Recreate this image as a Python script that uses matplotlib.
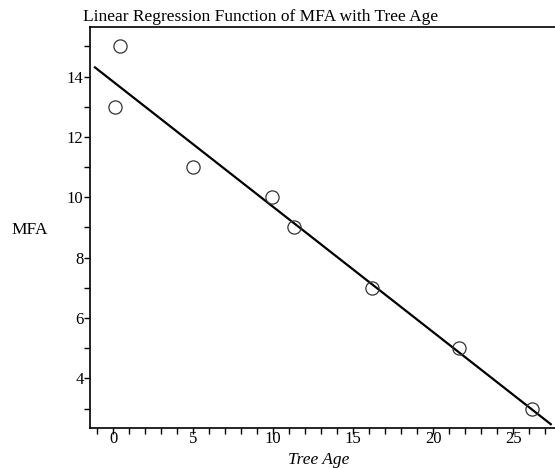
import numpy as np
import matplotlib
matplotlib.use("Agg")
import matplotlib.pyplot as plt
from matplotlib.ticker import MultipleLocator

# tree age vs MFA
tree_age = [0.1, 0.4, 5.0, 9.9, 11.3, 16.2, 21.6, 26.2]
mfa = [13, 15, 11, 10, 9, 7, 5, 3]
line_span = [-1.2, 27.4]

plt.rcParams['font.family'] = ['Liberation Serif', 'DejaVu Serif']

fig = plt.figure(figsize=(5.55, 4.68), dpi=100)
ax = fig.add_axes([0.163, 0.0855, 0.8405, 0.8568])

# least squares fit
slope, icpt = np.polyfit(tree_age, mfa, 1)
xs = np.array(line_span)
ax.plot(xs, icpt + slope * xs, color='black', lw=1.6, solid_capstyle='butt')

ax.plot(tree_age, mfa, 'o', ms=9.5, mfc='none', mec='#333333', mew=0.9)

ax.set_xlim(-1.425, 27.73)
ax.set_ylim(2.36, 15.64)
ax.xaxis.set_major_locator(MultipleLocator(5))
ax.xaxis.set_minor_locator(MultipleLocator(1))
ax.yaxis.set_major_locator(MultipleLocator(2))
ax.yaxis.set_minor_locator(MultipleLocator(1))
ax.tick_params(which='both', direction='out', length=4, width=1, labelsize=12, pad=1)
ax.tick_params(axis='x', pad=-2)
ax.spines['right'].set_visible(False)
for s in ['left', 'bottom', 'top']:
    ax.spines[s].set_linewidth(1.2)

ax.set_xlabel('Tree Age', style='italic', fontsize=12.5, va='center')
ax.xaxis.set_label_coords(0.49, -0.08)
ax.set_ylabel('MFA', rotation=0, fontsize=12.5)
ax.yaxis.set_label_coords(-0.13, 0.475)
fig.text(83 / 555, 1 - 17 / 468, 'Linear Regression Function of MFA with Tree Age',
         fontsize=12.5, ha='left', va='center')

fig.savefig('out.png', dpi=100)
